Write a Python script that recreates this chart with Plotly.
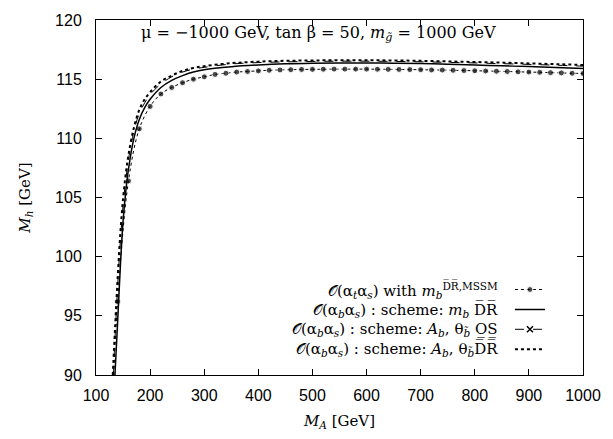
import plotly.graph_objects as go

# --- data ---
x_at = [133, 140, 160, 180, 200, 220, 240, 260, 280, 300, 320, 340, 360, 380, 400,
        420, 440, 460, 480, 500, 520, 540, 560, 580, 600, 620, 640, 660, 680, 700,
        720, 740, 760, 780, 800, 820, 840, 860, 880, 900, 920, 940, 960, 980, 1000]
y_at = [90.0, 96.2, 106.4, 110.8, 112.7, 113.75, 114.3, 114.7, 115.0, 115.2, 115.4, 115.5,
        115.6, 115.65, 115.7, 115.75, 115.78, 115.8, 115.82, 115.83, 115.84, 115.85, 115.85,
        115.85, 115.85, 115.84, 115.83, 115.82, 115.81, 115.8, 115.78, 115.77, 115.75, 115.73,
        115.71, 115.69, 115.67, 115.65, 115.62, 115.6, 115.58, 115.55, 115.53, 115.5, 115.48]

x_mb = [135, 140, 145, 150, 155, 160, 170, 180, 190, 200, 220, 240, 260, 280, 300, 350,
        400, 450, 500, 550, 600, 650, 700, 750, 800, 850, 900, 950, 1000]
y_mb = [90.0, 94.5, 99.2, 103.0, 105.5, 107.4, 110.0, 111.6, 112.6, 113.3, 114.3, 114.9,
        115.3, 115.6, 115.8, 116.05, 116.2, 116.3, 116.35, 116.37, 116.37, 116.35, 116.32,
        116.27, 116.2, 116.13, 116.06, 115.98, 115.9]

x_os = [132, 135, 140, 145, 150, 155, 160, 170, 180, 190, 200, 220, 240, 260, 280, 300,
        350, 400, 450, 500, 550, 600, 650, 700, 750, 800, 850, 900, 950, 1000]
y_os = [90.0, 93.0, 97.5, 101.3, 104.3, 106.5, 108.2, 110.6, 112.1, 113.0, 113.7, 114.6,
        115.2, 115.6, 115.85, 116.0, 116.28, 116.4, 116.46, 116.5, 116.52, 116.52, 116.5,
        116.47, 116.42, 116.37, 116.31, 116.25, 116.18, 116.1]

x_dr = [131, 135, 140, 145, 150, 155, 160, 170, 180, 190, 200, 220, 240, 260, 280, 300,
        350, 400, 450, 500, 550, 600, 650, 700, 750, 800, 850, 900, 950, 1000]
y_dr = [90.0, 93.8, 98.2, 102.0, 104.9, 107.0, 108.6, 110.9, 112.4, 113.3, 113.9, 114.8,
        115.3, 115.7, 115.95, 116.1, 116.35, 116.48, 116.55, 116.58, 116.6, 116.6, 116.58,
        116.55, 116.5, 116.45, 116.4, 116.33, 116.27, 116.2]

x_ticks = [100, 200, 300, 400, 500, 600, 700, 800, 900, 1000]
y_ticks = [90, 95, 100, 105, 110, 115, 120]

legend_texts = [
    "𝒪(α<sub><i>t</i></sub>α<sub><i>s</i></sub>) with <i>m<sub>b</sub></i><sup>D̅R̅,MSSM</sup>",
    "𝒪(α<sub><i>b</i></sub>α<sub><i>s</i></sub>) : scheme: <i>m<sub>b</sub></i> D̅R̅",
    "𝒪(α<sub><i>b</i></sub>α<sub><i>s</i></sub>) : scheme: <i>A<sub>b</sub></i>, θ<sub><i>b̃</i></sub> O̲S̲",
    "𝒪(α<sub><i>b</i></sub>α<sub><i>s</i></sub>) : scheme: <i>A<sub>b</sub></i>, θ<sub><i>b̃</i></sub>D̅R̅",
]
title_text = "μ = −1000 GeV, tan β = 50, <i>m<sub>g̃</sub></i> = 1000 GeV"

SERIF = "DejaVu Serif, Liberation Serif, serif"
SANS = "Liberation Sans, Arial, sans-serif"

fig = go.Figure()
fig.add_trace(go.Scatter(
    x=x_at, y=y_at, mode="lines+markers", name=" ",
    line=dict(color="black", width=1, dash="dot", shape="spline"),
    marker=dict(color="black", size=[0] + [6] * (len(x_at) - 1), symbol="circle"),
))
fig.add_trace(go.Scatter(
    x=x_mb, y=y_mb, mode="lines", name=" ",
    line=dict(color="black", width=1.5, shape="spline"),
))
fig.add_trace(go.Scatter(
    x=x_os, y=y_os, mode="lines", showlegend=False,
    line=dict(color="black", width=1, dash="dash", shape="spline"),
))
fig.add_trace(go.Scatter(
    x=[None], y=[None], mode="lines+markers", name=" ",
    line=dict(color="black", width=1, dash="dash"),
    marker=dict(color="black", size=6, symbol="x-thin", line=dict(width=1.5, color="black")),
))
fig.add_trace(go.Scatter(
    x=x_dr, y=y_dr, mode="lines", name=" ",
    line=dict(color="black", width=2, dash="dot", shape="spline"),
))

annotations = [dict(
    x=0.456, y=0.962, xref="paper", yref="paper", text=title_text, showarrow=False,
    font=dict(family=SERIF, size=16, color="black"), xanchor="center", yanchor="middle",
)]
rows_y = [0.239, 0.184, 0.129, 0.074]
for t, yy in zip(legend_texts, rows_y):
    annotations.append(dict(
        x=0.83, y=yy, xref="paper", yref="paper", text=t, showarrow=False,
        font=dict(family=SERIF, size=15, color="black"), xanchor="right", yanchor="middle",
    ))

fig.update_layout(
    width=613, height=439,
    margin=dict(l=96, r=24, t=12, b=63),
    paper_bgcolor="white", plot_bgcolor="white",
    showlegend=True,
    legend=dict(x=0.85, y=0.283, xanchor="left", yanchor="top",
                bgcolor="rgba(0,0,0,0)", borderwidth=0,
                font=dict(family=SERIF, size=13), tracegroupgap=0,
                itemwidth=30),
    annotations=annotations,
    xaxis=dict(
        range=[100, 1000], tickvals=x_ticks, ticktext=[str(v) for v in x_ticks],
        ticks="inside", ticklen=6, tickcolor="black", mirror="ticks",
        showline=True, linecolor="black", linewidth=1, showgrid=False, zeroline=False,
        tickfont=dict(family=SANS, size=16, color="black"), ticklabelstandoff=6,
        title=dict(text="<i>M<sub>A</sub></i> [GeV]", font=dict(family=SERIF, size=15, color="black"),
                   standoff=12),
    ),
    yaxis=dict(
        range=[90, 120], tickvals=y_ticks, ticktext=[str(v) for v in y_ticks],
        ticks="inside", ticklen=6, tickcolor="black", mirror="ticks",
        showline=True, linecolor="black", linewidth=1, showgrid=False, zeroline=False,
        tickfont=dict(family=SANS, size=16, color="black"), ticklabelstandoff=10,
        title=dict(text="<i>M<sub>h</sub></i> [GeV]", font=dict(family=SERIF, size=15, color="black"),
                   standoff=20),
    ),
)

fig.write_html("out.html")
